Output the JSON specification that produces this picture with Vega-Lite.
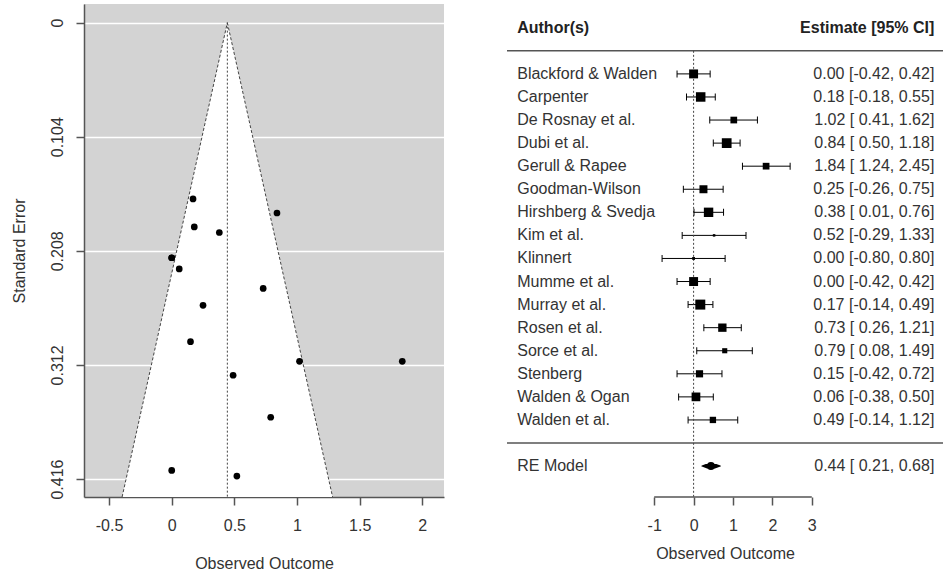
{
  "$schema": "https://vega.github.io/schema/vega-lite/v6.json",
  "padding": {"left": 11, "top": 4, "right": 0, "bottom": 0},
  "background": "white",
  "spacing": 62,
  "config": {
    "view": {"stroke": null},
    "font": "Liberation Sans",
    "text": {"font": "Liberation Sans"},
    "axis": {
      "labelFont": "Liberation Sans", "titleFont": "Liberation Sans",
      "labelFontSize": 16, "titleFontSize": 16, "titleFontWeight": "normal",
      "labelColor": "#333", "titleColor": "#333",
      "domainColor": "#555", "tickColor": "#555", "domainWidth": 1.5, "tickWidth": 1.5
    }
  },
  "datasets": {
    "studies": [
      {"author": "Blackford & Walden", "est": 0.00, "lo": -0.42, "hi": 0.42, "se": 0.2143, "label": "0.00 [-0.42, 0.42]", "type": "study"},
      {"author": "Carpenter", "est": 0.18, "lo": -0.18, "hi": 0.55, "se": 0.1862, "label": "0.18 [-0.18, 0.55]", "type": "study"},
      {"author": "De Rosnay et al.", "est": 1.02, "lo": 0.41, "hi": 1.62, "se": 0.3087, "label": "1.02 [ 0.41, 1.62]", "type": "study"},
      {"author": "Dubi et al.", "est": 0.84, "lo": 0.50, "hi": 1.18, "se": 0.1735, "label": "0.84 [ 0.50, 1.18]", "type": "study"},
      {"author": "Gerull & Rapee", "est": 1.84, "lo": 1.24, "hi": 2.45, "se": 0.3087, "label": "1.84 [ 1.24, 2.45]", "type": "study"},
      {"author": "Goodman-Wilson", "est": 0.25, "lo": -0.26, "hi": 0.75, "se": 0.2577, "label": "0.25 [-0.26, 0.75]", "type": "study"},
      {"author": "Hirshberg & Svedja", "est": 0.38, "lo": 0.01, "hi": 0.76, "se": 0.1913, "label": "0.38 [ 0.01, 0.76]", "type": "study"},
      {"author": "Kim et al.", "est": 0.52, "lo": -0.29, "hi": 1.33, "se": 0.4133, "label": "0.52 [-0.29, 1.33]", "type": "study"},
      {"author": "Klinnert", "est": 0.00, "lo": -0.80, "hi": 0.80, "se": 0.4082, "label": "0.00 [-0.80, 0.80]", "type": "study"},
      {"author": "Mumme et al.", "est": 0.00, "lo": -0.42, "hi": 0.42, "se": 0.2143, "label": "0.00 [-0.42, 0.42]", "type": "study"},
      {"author": "Murray et al.", "est": 0.17, "lo": -0.14, "hi": 0.49, "se": 0.1607, "label": "0.17 [-0.14, 0.49]", "type": "study"},
      {"author": "Rosen et al.", "est": 0.73, "lo": 0.26, "hi": 1.21, "se": 0.2423, "label": "0.73 [ 0.26, 1.21]", "type": "study"},
      {"author": "Sorce et al.", "est": 0.79, "lo": 0.08, "hi": 1.49, "se": 0.3597, "label": "0.79 [ 0.08, 1.49]", "type": "study"},
      {"author": "Stenberg", "est": 0.15, "lo": -0.42, "hi": 0.72, "se": 0.2908, "label": "0.15 [-0.42, 0.72]", "type": "study"},
      {"author": "Walden & Ogan", "est": 0.06, "lo": -0.38, "hi": 0.50, "se": 0.2245, "label": "0.06 [-0.38, 0.50]", "type": "study"},
      {"author": "Walden et al.", "est": 0.49, "lo": -0.14, "hi": 1.12, "se": 0.3214, "label": "0.49 [-0.14, 1.12]", "type": "study"},
      {"author": "RE Model", "est": 0.44, "lo": 0.21, "hi": 0.68, "se": 0.12, "label": "0.44 [ 0.21, 0.68]", "type": "summary"}
    ],
    "funnel": [
      {"se": 0, "lo": 0.444, "hi": 0.444},
      {"se": 0.4324, "lo": -0.396, "hi": 1.284}
    ],
    "diamond": [
      {"x": 0.21, "part": "end"},
      {"x": 0.44, "part": "peak"},
      {"x": 0.68, "part": "end"}
    ]
  },
  "hconcat": [
    {
      "width": 360,
      "height": 493,
      "view": {"fill": "#D3D3D3", "stroke": null},
      "layer": [
        {
          "data": {"name": "funnel"},
          "mark": {"type": "area", "orient": "horizontal", "color": "white", "opacity": 1},
          "encoding": {
            "y": {
              "field": "se", "type": "quantitative",
              "scale": {"domain": [-0.017, 0.4324], "reverse": true, "nice": false, "zero": false},
              "axis": {
                "values": [0, 0.104, 0.208, 0.312, 0.416], "format": ".3~f",
                "labelAngle": -90, "title": "Standard Error",
                "tickSize": 8, "labelPadding": 11, "titlePadding": 22,
                "grid": true, "gridColor": "white", "gridWidth": 1.5
              }
            },
            "x": {
              "field": "lo", "type": "quantitative",
              "scale": {"domain": [-0.70, 2.173], "nice": false, "zero": false},
              "axis": {
                "values": [-0.5, 0, 0.5, 1, 1.5, 2], "labelExpr": "'' + datum.value",
                "title": "Observed Outcome", "tickSize": 8, "labelPadding": 12,
                "titlePadding": 22, "grid": false
              }
            },
            "x2": {"field": "hi"}
          }
        },
        {
          "data": {"name": "funnel"},
          "mark": {"type": "line", "color": "#444", "strokeDash": [3, 2], "strokeWidth": 1},
          "encoding": {
            "x": {"field": "lo", "type": "quantitative"},
            "y": {"field": "se", "type": "quantitative"}
          }
        },
        {
          "data": {"name": "funnel"},
          "mark": {"type": "line", "color": "#444", "strokeDash": [3, 2], "strokeWidth": 1},
          "encoding": {
            "x": {"field": "hi", "type": "quantitative"},
            "y": {"field": "se", "type": "quantitative"}
          }
        },
        {
          "data": {"values": [{}]},
          "mark": {"type": "rule", "color": "#444", "strokeDash": [2, 2], "strokeWidth": 1},
          "encoding": {
            "x": {"datum": 0.444},
            "y": {"datum": 0},
            "y2": {"datum": 0.4324}
          }
        },
        {
          "data": {"name": "studies"},
          "transform": [{"filter": "datum.type === 'study'"}],
          "mark": {"type": "circle", "color": "black", "opacity": 1, "size": 45},
          "encoding": {
            "x": {"field": "est", "type": "quantitative"},
            "y": {"field": "se", "type": "quantitative"}
          }
        }
      ]
    },
    {
      "width": 436,
      "height": 493,
      "view": {"stroke": null},
      "layer": [
        {
          "data": {"name": "studies"},
          "transform": [{"filter": "datum.type === 'study'"}],
          "mark": {"type": "rule", "color": "black", "strokeWidth": 1},
          "encoding": {
            "x": {
              "field": "lo", "type": "quantitative",
              "scale": {"domain": [-4.736, 6.33], "nice": false, "zero": false},
              "axis": {
                "values": [-1, 0, 1, 2, 3], "labelExpr": "'' + datum.value",
                "domain": false, "grid": false, "tickSize": 8, "labelPadding": 12,
                "titlePadding": 12, "title": "Observed Outcome"
              }
            },
            "x2": {"field": "hi"},
            "y": {
              "field": "author", "type": "nominal",
              "scale": {
                "type": "point",
                "domain": ["_top", "Author(s)", "_sep1", "Blackford & Walden", "Carpenter", "De Rosnay et al.", "Dubi et al.", "Gerull & Rapee", "Goodman-Wilson", "Hirshberg & Svedja", "Kim et al.", "Klinnert", "Mumme et al.", "Murray et al.", "Rosen et al.", "Sorce et al.", "Stenberg", "Walden & Ogan", "Walden et al.", "_sep2", "RE Model", "_bot1"],
                "padding": 0.185, "align": 0.081
              },
              "axis": null
            }
          }
        },
        {
          "data": {"values": [{}]},
          "mark": {"type": "rule", "color": "#555", "strokeWidth": 1.5},
          "encoding": {"y": {"datum": "_sep1", "type": "nominal"}}
        },
        {
          "data": {"values": [{}]},
          "mark": {"type": "rule", "color": "#555", "strokeWidth": 1.5},
          "encoding": {"y": {"datum": "_sep2", "type": "nominal"}}
        },
        {
          "data": {"values": [{}]},
          "mark": {"type": "rule", "color": "#444", "strokeDash": [2, 2], "strokeWidth": 1},
          "encoding": {
            "x": {"datum": 0},
            "y": {"datum": "_sep1", "type": "nominal"},
            "y2": {"value": "height"}
          }
        },
        {
          "data": {"values": [{}]},
          "mark": {"type": "rule", "color": "#555", "strokeWidth": 1.5},
          "encoding": {
            "x": {"datum": -1},
            "x2": {"datum": 3},
            "y": {"value": "height"}
          }
        },
        {
          "data": {"name": "studies"},
          "transform": [{"filter": "datum.type === 'study'"}],
          "mark": {"type": "tick", "orient": "vertical", "color": "black", "size": 7, "thickness": 1, "opacity": 1},
          "encoding": {
            "x": {"field": "lo", "type": "quantitative"},
            "y": {"field": "author", "type": "nominal"}
          }
        },
        {
          "data": {"name": "studies"},
          "transform": [{"filter": "datum.type === 'study'"}],
          "mark": {"type": "tick", "orient": "vertical", "color": "black", "size": 7, "thickness": 1, "opacity": 1},
          "encoding": {
            "x": {"field": "hi", "type": "quantitative"},
            "y": {"field": "author", "type": "nominal"}
          }
        },
        {
          "data": {"name": "studies"},
          "transform": [{"filter": "datum.type === 'study'"}],
          "mark": {"type": "point", "shape": "square", "filled": true, "color": "black", "opacity": 1},
          "encoding": {
            "x": {"field": "est", "type": "quantitative"},
            "y": {"field": "author", "type": "nominal"},
            "size": {
              "field": "se", "type": "quantitative",
              "scale": {"domain": [0.16, 0.414], "range": [100, 6], "zero": false, "nice": false},
              "legend": null
            }
          }
        },
        {
          "data": {"name": "diamond"},
          "mark": {"type": "trail", "color": "black"},
          "encoding": {
            "x": {"field": "x", "type": "quantitative"},
            "y": {"datum": "RE Model", "type": "nominal"},
            "order": {"field": "x", "type": "quantitative"},
            "size": {
              "field": "part", "type": "nominal",
              "scale": {"domain": ["end", "peak"], "range": [0, 8]},
              "legend": null
            }
          }
        },
        {
          "data": {"name": "studies"},
          "mark": {"type": "text", "align": "left", "baseline": "middle", "fontSize": 16, "color": "#333"},
          "encoding": {
            "x": {"datum": -4.477},
            "y": {"field": "author", "type": "nominal"},
            "text": {"field": "author"}
          }
        },
        {
          "data": {"name": "studies"},
          "mark": {"type": "text", "align": "right", "baseline": "middle", "fontSize": 16, "color": "#333"},
          "encoding": {
            "x": {"datum": 6.11},
            "y": {"field": "author", "type": "nominal"},
            "text": {"field": "label"}
          }
        },
        {
          "data": {"values": [{}]},
          "mark": {"type": "text", "align": "left", "baseline": "middle", "fontSize": 16, "fontWeight": "bold", "color": "#222", "text": "Author(s)"},
          "encoding": {
            "x": {"datum": -4.477},
            "y": {"datum": "Author(s)", "type": "nominal"}
          }
        },
        {
          "data": {"values": [{}]},
          "mark": {"type": "text", "align": "right", "baseline": "middle", "fontSize": 16, "fontWeight": "bold", "color": "#222", "text": "Estimate [95% CI]"},
          "encoding": {
            "x": {"datum": 6.11},
            "y": {"datum": "Author(s)", "type": "nominal"}
          }
        }
      ]
    }
  ]
}
